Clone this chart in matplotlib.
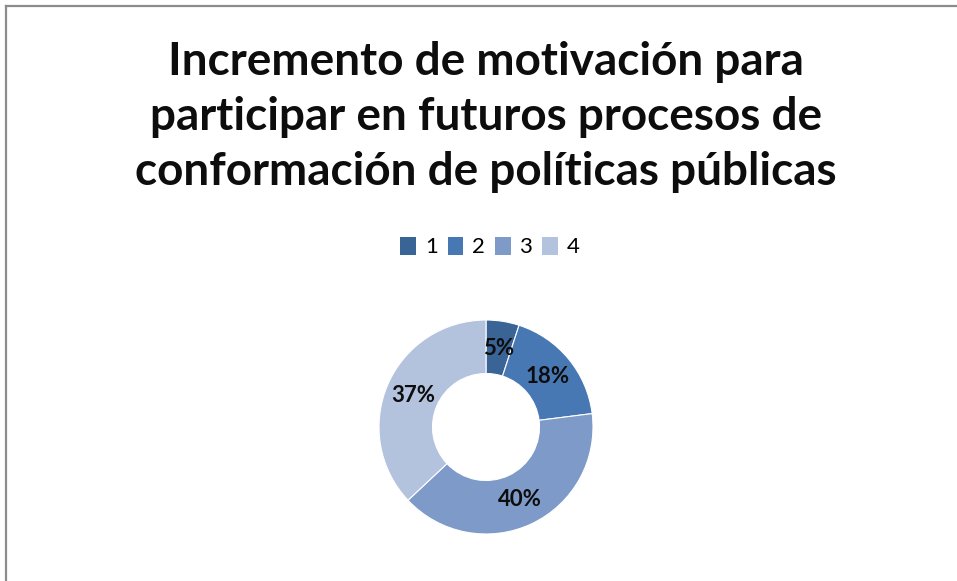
import matplotlib
matplotlib.use("Agg")
import matplotlib.pyplot as plt
from matplotlib.patches import Patch
from matplotlib.lines import Line2D
import numpy as np

categories = ["1", "2", "3", "4"]
values = [5, 18, 40, 37]
labels = ["5%", "18%", "40%", "37%"]
colors = ["#3A6496", "#4778B4", "#7D9AC8", "#B3C2DD"]
title = "Incremento de motivación para\nparticipar en futuros procesos de\nconformación de políticas públicas"

W, H = 957, 581
fig = plt.figure(figsize=(W / 100, H / 100), dpi=100)
fig.patch.set_facecolor("white")

ax = fig.add_axes([0, 0, 1, 1])

# chart border (only top and left visible in crop)
ax.add_line(Line2D([6, 6], [0, H - 6], color="#8C8C8C", lw=1.6))
ax.add_line(Line2D([6, W], [H - 6, H - 6], color="#8C8C8C", lw=1.6))

cx, cy, R = 486, H - 427, 107
wedges, _ = ax.pie(values, colors=colors, startangle=90, counterclock=False,
                   center=(cx, cy), radius=R, frame=True,
                   wedgeprops=dict(width=R * 0.5, edgecolor="white", linewidth=0.8))
ax.set_xlim(0, W)
ax.set_ylim(0, H)
ax.set_aspect("equal")
ax.axis("off")

start = 90.0
for v, lab in zip(values, labels):
    ang = start - v * 3.6 / 2
    start -= v * 3.6
    r = R * 0.745
    x = cx + r * np.cos(np.radians(ang))
    y = cy + r * np.sin(np.radians(ang))
    ax.text(x, y, lab, ha="center", va="center", fontsize=16, fontweight="bold",
            family="Lato", color="#0d0d0d")

fig.text(486 / W, 1 - 117 / H, title, ha="center", va="center", fontsize=33,
         fontweight="bold", family="Lato", linespacing=1.37, color="#0d0d0d")

handles = [Patch(facecolor=c, edgecolor="none") for c in colors]
fig.legend(handles, categories, loc="center", bbox_to_anchor=(490 / W, 1 - 247 / H),
           ncol=4, frameon=False, prop=dict(family="Lato", size=16),
           handlelength=0.7, handleheight=0.9, handletextpad=0.4, columnspacing=0.45)

fig.savefig("out.png", dpi=100, facecolor="white")
